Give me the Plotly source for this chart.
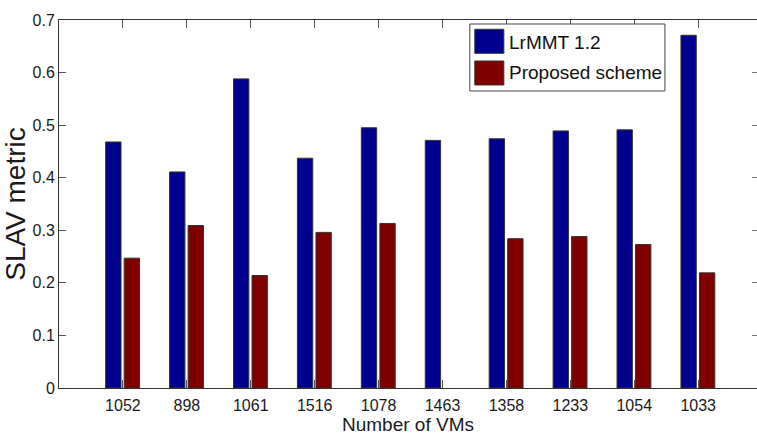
import plotly.graph_objects as go

# Number of VMs in each test case (category labels)
vm_counts = ["1052", "898", "1061", "1516", "1078", "1463", "1358", "1233", "1054", "1033"]
# SLAV metric per case
lrmmt_vals = [0.468, 0.411, 0.588, 0.437, 0.495, 0.471, 0.474, 0.489, 0.491, 0.671]
proposed_vals = [0.247, 0.309, 0.214, 0.296, 0.313, None, 0.284, 0.288, 0.273, 0.219]
series_names = ["LrMMT 1.2", "Proposed scheme"]
y_ticks = [0, 0.1, 0.2, 0.3, 0.4, 0.5, 0.6, 0.7]

BLUE = "#00008f"
RED = "#800000"
EDGE = "#333333"
FONT = "Liberation Sans, Arial, sans-serif"

positions = list(range(1, len(vm_counts) + 1))

fig = go.Figure()
fig.add_trace(go.Bar(
    x=positions, y=lrmmt_vals, name=series_names[0],
    width=0.24, offset=-0.27,
    marker=dict(color=BLUE, line=dict(color=EDGE, width=1)),
    showlegend=False,
))
fig.add_trace(go.Bar(
    x=positions, y=proposed_vals, name=series_names[1],
    width=0.24, offset=0.02,
    marker=dict(color=RED, line=dict(color=EDGE, width=1)),
    showlegend=False,
))
# right-hand inward ticks (no labels)
fig.add_trace(go.Scatter(x=[None], y=[None], yaxis="y2", showlegend=False))

tick_font = dict(family=FONT, size=16, color="#1a1a1a")

fig.update_layout(
    width=757, height=437,
    margin=dict(l=59, r=0, t=20, b=49),
    paper_bgcolor="white", plot_bgcolor="white",
    barmode="group",
    xaxis=dict(
        range=[0, 10.92], tickmode="array", tickvals=positions, ticktext=vm_counts,
        showline=True, linecolor=EDGE, linewidth=1, mirror="ticks",
        ticks="inside", ticklen=8, tickcolor="#555555", tickwidth=1,
        showgrid=False, zeroline=False, tickfont=tick_font,
        ticklabelstandoff=3,
        title=dict(text="Number of VMs", font=dict(family=FONT, size=19, color="#1a1a1a"),
                   standoff=0),
    ),
    yaxis=dict(
        range=[0, 0.7], tickmode="array", tickvals=y_ticks,
        ticktext=[f"{v:g}" for v in y_ticks],
        showline=True, linecolor=EDGE, linewidth=1, mirror=False,
        ticks="inside", ticklen=7, tickcolor="#555555", tickwidth=1,
        showgrid=False, zeroline=False, tickfont=tick_font,
        ticklabelstandoff=0,
        title=dict(text="SLAV metric", font=dict(family=FONT, size=28, color="#1a1a1a"),
                   standoff=4),
    ),
    yaxis2=dict(
        range=[0, 0.7], tickmode="array", tickvals=y_ticks, overlaying="y", side="right",
        showline=False, ticks="inside", ticklen=5, tickcolor="#777777",
        showticklabels=False, showgrid=False, zeroline=False,
    ),
)

# legend box drawn in paper coordinates
legend_box = dict(x0=0.5886, x1=0.8681, y0=0.8071, y1=0.9891)
swatches = [(0.9095, 0.9747, BLUE), (0.8234, 0.8886, RED)]
label_y = [0.9400, 0.8570]

fig.add_shape(type="rect", xref="paper", yref="paper", **legend_box,
              line=dict(color="#444444", width=1), fillcolor="white", layer="above")
for (y0, y1, col), ly, name in zip(swatches, label_y, series_names):
    fig.add_shape(type="rect", xref="paper", yref="paper",
                  x0=0.5957, x1=0.6373, y0=y0, y1=y1,
                  line=dict(color=EDGE, width=1), fillcolor=col, layer="above")
    fig.add_annotation(xref="paper", yref="paper", x=0.6416, y=ly,
                       xanchor="left", yanchor="middle", showarrow=False,
                       text=name, font=dict(family=FONT, size=19, color="#111111"))

fig.write_html("out.html")
